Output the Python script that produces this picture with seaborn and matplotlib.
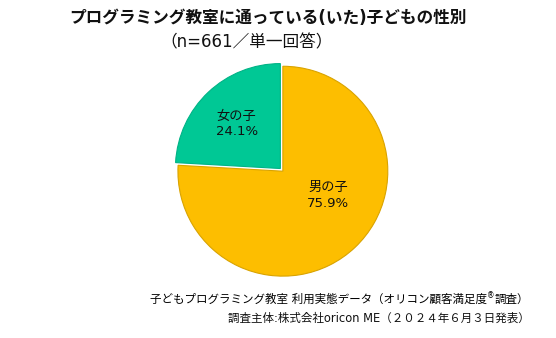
import matplotlib
matplotlib.use("Agg")
import matplotlib.pyplot as plt
import seaborn as sns

sns.set_theme(style="white")
plt.rcParams['font.family'] = ['DejaVu Sans', 'Noto Sans CJK JP']

# Share of children by gender (n=661, single answer)
categories = ["女の子", "男の子"]
shares = [24.1, 75.9]
colors = ["#00C895", "#FDBE00"]
edge_colors = ["#00B386", "#D9A300"]

title = "プログラミング教室に通っている(いた)子どもの性別"
subtitle = "（n=661／単一回答）"
source_name = "子どもプログラミング教室 利用実態データ"
source_survey = ["（オリコン顧客満足度", "®", "調査）"]
source_credit = "調査主体:株式会社oricon ME（２０２４年６月３日発表）"

fig = plt.figure(figsize=(5.56, 3.38), dpi=100)
fig.patch.set_facecolor("white")

ax = fig.add_axes([0.301, 0.152, 0.4155, 0.683])
wedges, _ = ax.pie(shares, colors=colors, startangle=90, counterclock=True,
                   explode=[0.035, 0.0], radius=1.0,
                   wedgeprops=dict(linewidth=0.8))
for w, ec in zip(wedges, edge_colors):
    w.set_edgecolor(ec)
ax.set_xlim(-1.1, 1.1)
ax.set_ylim(-1.1, 1.1)
ax.set_aspect("equal")
ax.axis("off")

label_pos = [(-0.44, 0.45), (0.43, -0.23)]
for cat, val, (x, y) in zip(categories, shares, label_pos):
    ax.text(x, y, f"{cat}\n{val:.1f}%", ha="center", va="center",
            fontsize=9.5, color="#111111", linespacing=1.3)

fig.text(0.482, 0.946, title, ha="center", va="center",
         fontsize=12, fontweight="bold", color="#111111")
fig.text(0.443, 0.876, subtitle, ha="center", va="center",
         fontsize=12, color="#111111")

# Source note: pieces chained right to left so the ® can sit raised and small
renderer = fig.canvas.get_renderer()
inv = fig.transFigure.inverted()
x_right = 0.952
y_line1 = 0.113
pieces = [
    (source_survey[2], dict(fontsize=8.3), 0.0),
    (source_survey[1], dict(fontsize=5.5), 0.012),
    (source_survey[0], dict(fontsize=8.3), 0.0),
    (source_name, dict(fontsize=8.3), 0.0),
]
for txt, kw, dy in pieces:
    t = fig.text(x_right, y_line1 + dy, txt, ha="right", va="center",
                 color="#000000", **kw)
    bb = t.get_window_extent(renderer=renderer)
    x_right = inv.transform((bb.x0, bb.y0))[0]

fig.text(0.952, 0.058, source_credit, ha="right", va="center",
         fontsize=8.3, color="#111111")

fig.savefig("out.png", dpi=100, facecolor="white")
